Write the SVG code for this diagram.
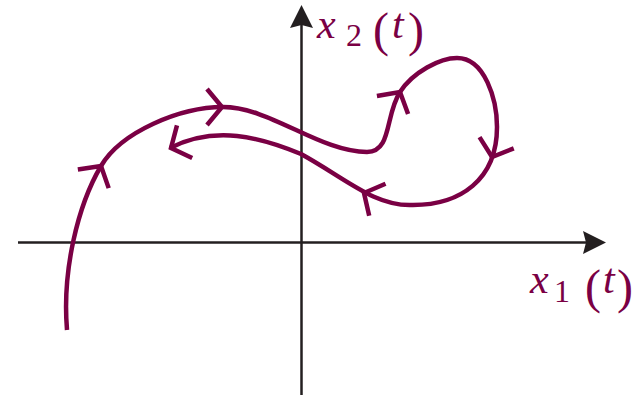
<svg xmlns="http://www.w3.org/2000/svg" xmlns:xlink="http://www.w3.org/1999/xlink" width="641" height="398" viewBox="0 0 641 398">
  <style>
    .axis { stroke: #231f20; stroke-width: 2.5; fill: none; }
    .axhead { fill: #231f20; stroke: none; }
    .traj { stroke: #7a0044; stroke-width: 4.5; fill: none; stroke-linecap: butt; stroke-linejoin: miter; }
    .lbl { fill: #7a0044; font-family: "Liberation Serif", "Times New Roman", serif; }
  </style>
  <defs>
    <path id="chev" class="traj" d="M-15,-18 L0,0 L-15,18"/>
  </defs>
  <g id="axes">
    <line class="axis" x1="18" y1="242.5" x2="590" y2="242.5"/>
    <polygon class="axhead" points="606,242.5 583,231 586,242.5 583,254"/>
    <line class="axis" x1="301.5" y1="395" x2="301.5" y2="20"/>
    <polygon class="axhead" points="301.5,5 290,28 301.5,25 313,28"/>
  </g>
  <g id="connectors">
    <path class="traj" d="M67,330 C62,270 78,205 101,166 C121,132 180,107 223,107 C270,107 320,152 367,152 C392,152 385,115 400,92 C413,72 440,58 457,58 C485,58 497,100 497,127 C497,180 460,205 413,205 C375,207 345,178 301,154 C260,137 215,125 170,148"/>
    <use xlink:href="#chev" href="#chev" transform="translate(101,166) rotate(-59)"/>
    <use xlink:href="#chev" href="#chev" transform="translate(222,107) rotate(0)"/>
    <use xlink:href="#chev" href="#chev" transform="translate(400,92) rotate(-60)"/>
    <use xlink:href="#chev" href="#chev" transform="translate(492,157) rotate(108)"/>
    <use xlink:href="#chev" href="#chev" transform="translate(364,193) rotate(-153)"/>
    <use xlink:href="#chev" href="#chev" transform="translate(171,148) rotate(155)"/>
  </g>
  <g id="label-x2">
    <text class="lbl"><tspan x="317" y="38" font-size="42" font-style="italic">x</tspan><tspan x="346" y="46" font-size="32">2</tspan><tspan x="373" y="46" font-size="48">(</tspan><tspan x="392" y="38" font-size="42" font-style="italic">t</tspan><tspan x="408" y="46" font-size="48">)</tspan></text>
  </g>
  <g id="label-x1">
    <text class="lbl"><tspan x="530" y="293" font-size="42" font-style="italic">x</tspan><tspan x="554" y="302" font-size="32">1</tspan><tspan x="585" y="303" font-size="48">(</tspan><tspan x="603" y="293" font-size="42" font-style="italic">t</tspan><tspan x="617" y="303" font-size="48">)</tspan></text>
  </g>
</svg>
